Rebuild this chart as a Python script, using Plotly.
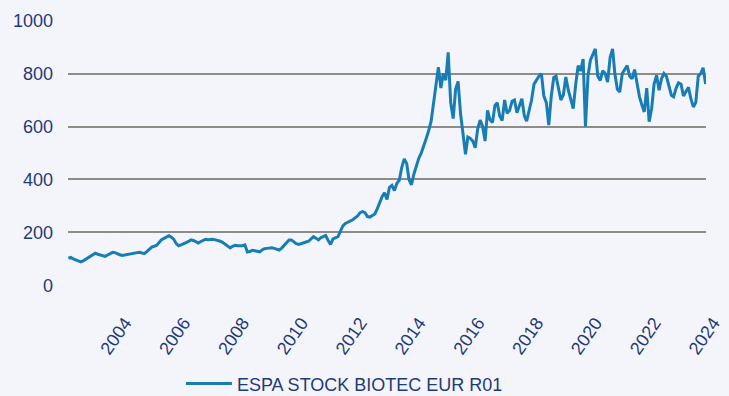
import pandas as pd
import plotly.graph_objects as go

# Monthly index level (start = 100), first observation August 2002
series_name = "ESPA STOCK BIOTEC EUR R01"
first_month = "2002-08-01"
fund_values = [
    103, 106, 100, 97, 92,                                            # 2002
    89, 93, 99, 105, 112, 117, 122, 118, 115, 112, 110, 115,          # 2003
    120, 125, 124, 119, 116, 113, 115, 118, 119, 121, 122, 124,       # 2004
    125, 121, 120, 128, 138, 145, 148, 152, 162, 173, 178, 183,       # 2005
    188, 182, 175, 158, 150, 153, 156, 162, 166, 172, 170, 165,       # 2006
    160, 166, 171, 174, 173, 174, 174, 172, 170, 167, 162, 155,       # 2007
    148, 142, 148, 152, 150, 149, 150, 153, 126, 128, 133, 131,       # 2008
    130, 127, 134, 139, 140, 141, 142, 140, 138, 134, 141, 150,       # 2009
    162, 172, 172, 164, 158, 155, 157, 160, 164, 167, 175, 184,       # 2010
    178, 172, 180, 186, 189, 170, 155, 176, 180, 184, 205, 225,       # 2011
    234, 238, 242, 248, 255, 262, 275, 279, 275, 260, 258, 264,       # 2012
    270, 290, 315, 335, 350, 325, 370, 378, 358, 385, 398, 445,       # 2013
    478, 460, 400, 380, 420, 455, 480, 500, 525, 555, 585, 620,       # 2014
    690, 760, 824, 745, 800, 775, 880, 690, 630, 740, 770, 650,       # 2015
    560, 495, 560, 555, 545, 520, 590, 624, 600, 545, 661, 625,       # 2016
    615, 680, 690, 640, 622, 700, 650, 660, 695, 700, 652, 680,       # 2017
    705, 640, 620, 660, 699, 760, 774, 790, 799, 715, 690, 605,       # 2018
    715, 785, 790, 740, 700, 720, 787, 737, 700, 668, 760, 830,       # 2019
    810, 855, 600, 790, 850, 870, 893, 790, 774, 810, 800, 768,       # 2020
    860, 893, 800, 740, 730, 800, 815, 830, 790, 780, 815, 760,       # 2021
    712, 680, 655, 745, 618, 668, 760, 793, 737, 780, 800, 790,       # 2022
    750, 718, 712, 745, 765, 760, 715, 730, 748, 705, 674, 690,       # 2023
    790, 800, 822, 760,                                               # 2024
]
tick_years = [2004, 2006, 2008, 2010, 2012, 2014, 2016, 2018, 2020, 2022, 2024]
y_ticks = [0, 200, 400, 600, 800, 1000]

dates = pd.date_range(first_month, periods=len(fund_values), freq="MS")

navy = "#1f3a78"
line_blue = "#187db4"
bg = "#f4f5fb"
grid = "#8e8c87"

fig = go.Figure()
fig.add_trace(go.Scatter(
    x=dates, y=fund_values, mode="lines", name=series_name,
    line=dict(color=line_blue, width=3),
))

fig.update_layout(
    width=729, height=396,
    margin=dict(l=68, r=23, t=20, b=110, autoexpand=False),
    paper_bgcolor=bg, plot_bgcolor=bg,
    font=dict(family="Arial, Liberation Sans, sans-serif", size=18, color=navy),
    showlegend=True,
    legend=dict(
        orientation="h", x=0.177, xanchor="left", y=-0.368, yanchor="middle",
        itemwidth=46,
        bgcolor="rgba(0,0,0,0)", font=dict(size=18, color=navy),
    ),
    xaxis=dict(
        type="date",
        range=[dates[0] - pd.Timedelta(days=5), dates[-1] + pd.Timedelta(days=5)],
        tickvals=[pd.Timestamp(f"{y}-01-01") for y in tick_years],
        ticktext=[str(y) for y in tick_years],
        tickangle=-55,
        ticklabelshift=15,
        ticklabelstandoff=22,
        showgrid=False, zeroline=False, showline=False, ticks="",
        tickfont=dict(size=18, color=navy),
    ),
    yaxis=dict(
        range=[-2, 1002],
        tickvals=y_ticks,
        showgrid=True, gridcolor=grid, gridwidth=1.5,
        zeroline=False, showline=False, ticks="",
        ticklabelstandoff=14,
        tickfont=dict(size=18, color=navy),
    ),
)

fig.write_html("out.html")
